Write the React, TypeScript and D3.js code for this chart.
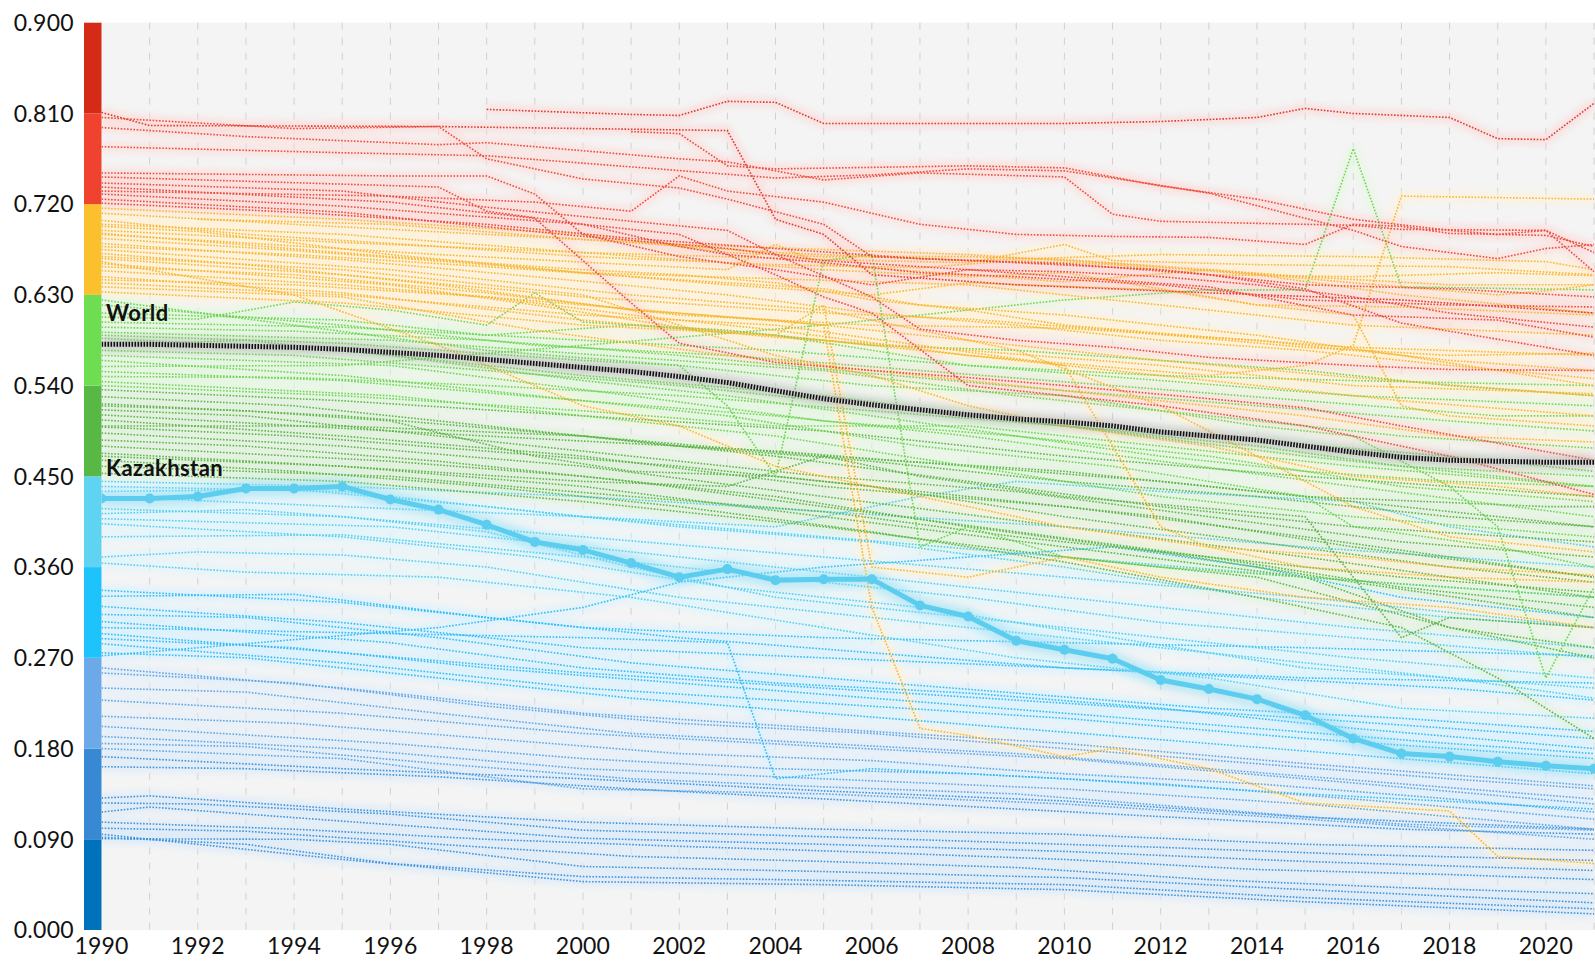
import React from 'react';
import * as d3 from 'd3';

// ---------- data ----------
const yTickValues = [0, 0.09, 0.18, 0.27, 0.36, 0.45, 0.54, 0.63, 0.72, 0.81, 0.9];
const xTickLabels = [1990, 1992, 1994, 1996, 1998, 2000, 2002, 2004, 2006, 2008, 2010, 2012, 2014, 2016, 2018, 2020];
const years = d3.range(1990, 2022);

const worldValues = [0.581, 0.581, 0.580, 0.579, 0.578, 0.576, 0.573, 0.570, 0.566, 0.562, 0.558, 0.554, 0.549, 0.543, 0.535, 0.527, 0.521, 0.516, 0.511, 0.507, 0.504, 0.500, 0.494, 0.490, 0.486, 0.480, 0.474, 0.469, 0.466, 0.465, 0.464, 0.464];
const kazakhstanValues = [0.428, 0.428, 0.430, 0.438, 0.438, 0.440, 0.427, 0.417, 0.402, 0.385, 0.377, 0.364, 0.350, 0.358, 0.347, 0.348, 0.348, 0.322, 0.311, 0.287, 0.278, 0.269, 0.248, 0.239, 0.229, 0.213, 0.190, 0.175, 0.172, 0.167, 0.163, 0.160];

// each country series: [year, value, year, value, ...]
const redSeries = [
  [1998,.814, 2001,.809, 2002,.808, 2003,.822, 2004,.821, 2005,.800, 2010,.800, 2012,.802, 2014,.806, 2015,.815, 2016,.810, 2018,.806, 2019,.785, 2020,.784, 2021,.820],
  [1990,.811, 1991,.798, 1997,.797, 2003,.793, 2004,.705, 2005,.690, 2006,.650, 2009,.640, 2013,.632, 2017,.625, 2021,.612],
  [1990,.806, 1994,.795, 1997,.797, 1998,.765, 2000,.745, 2002,.736, 2003,.725, 2005,.700, 2006,.668, 2009,.662, 2012,.655, 2015,.640, 2018,.636, 2021,.628],
  [1990,.796, 1993,.787, 1997,.779, 1998,.781, 2002,.765, 2003,.762, 2005,.744, 2007,.751, 2010,.747, 2011,.710, 2012,.703, 2016,.699, 2017,.695, 2020,.694, 2021,.653],
  [1990,.777, 1995,.771, 1998,.768, 2001,.757, 2004,.746, 2006,.749, 2008,.755, 2010,.753, 2011,.746, 2013,.731, 2015,.706, 2016,.694, 2017,.678, 2019,.666, 2020,.676, 2021,.680],
  [1990,.751, 1996,.748, 1998,.748, 1999,.730, 2000,.690, 2002,.668, 2004,.655, 2006,.640, 2008,.655, 2010,.653, 2012,.648, 2014,.640, 2016,.628, 2018,.612, 2021,.598],
  [1990,.747, 1997,.737, 1998,.713, 2000,.700, 2002,.678, 2003,.670, 2005,.662, 2007,.652, 2009,.648, 2012,.640, 2015,.625, 2018,.620, 2021,.618],
  [1990,.741, 1995,.733, 1998,.717, 2001,.703, 2003,.694, 2004,.670, 2006,.628, 2007,.596, 2009,.585, 2011,.578, 2013,.568, 2016,.560, 2018,.556, 2021,.555],
  [1990,.737, 1996,.722, 1999,.706, 2001,.622, 2002,.582, 2004,.563, 2006,.555, 2008,.548, 2010,.540, 2013,.527, 2015,.518, 2017,.500, 2021,.466],
  [1990,.730, 1995,.718, 2000,.700, 2002,.690, 2003,.670, 2004,.650, 2005,.628, 2006,.612, 2008,.540, 2010,.530, 2012,.520, 2015,.500, 2018,.470, 2021,.432],
  [1990,.725, 1995,.712, 2000,.688, 2003,.676, 2005,.664, 2008,.655, 2010,.648, 2013,.638, 2016,.610, 2019,.605, 2021,.588],
  [1990,.721, 1994,.712, 1998,.700, 2001,.686, 2004,.676, 2007,.666, 2010,.661, 2013,.650, 2015,.636, 2017,.602, 2021,.570],
  [2001,.792, 2002,.790, 2003,.758, 2004,.755, 2008,.758, 2010,.756, 2012,.738, 2014,.725, 2016,.705, 2018,.694, 2019,.690, 2020,.694, 2021,.672],
  [1990,.733, 1996,.728, 1999,.722, 2001,.713, 2002,.748, 2003,.733, 2005,.722, 2007,.700, 2009,.690, 2011,.688, 2013,.687, 2015,.680, 2016,.700, 2017,.698, 2018,.691, 2020,.689, 2021,.678],
];

const orangeSeries = [
  [1990,.716, 1995,.705, 2000,.690, 2003,.672, 2005,.668, 2008,.668, 2010,.665, 2013,.655, 2015,.648, 2018,.640, 2021,.640],
  [1990,.711, 1994,.700, 1998,.690, 2002,.680, 2005,.675, 2008,.670, 2011,.661, 2014,.650, 2017,.630, 2021,.612],
  [1990,.704, 1993,.690, 1997,.678, 2000,.668, 2004,.660, 2007,.657, 2009,.664, 2011,.660, 2013,.650, 2016,.648, 2019,.652, 2021,.649],
  [1990,.698, 1992,.693, 1996,.670, 2000,.652, 2004,.646, 2008,.640, 2012,.620, 2016,.600, 2021,.590],
  [1990,.694, 1995,.682, 2000,.672, 2005,.665, 2008,.662, 2010,.680, 2011,.664, 2014,.660, 2018,.658, 2021,.650],
  [1990,.691, 1996,.668, 2000,.655, 2002,.650, 2004,.642, 2006,.625, 2008,.615, 2010,.600, 2013,.588, 2016,.578, 2021,.570],
  [1990,.681, 1995,.665, 1999,.648, 2003,.630, 2006,.612, 2009,.600, 2012,.585, 2015,.575, 2018,.560, 2021,.547],
  [1990,.678, 1994,.670, 1998,.658, 2002,.645, 2005,.636, 2007,.620, 2010,.610, 2014,.590, 2017,.570, 2021,.540],
  [1990,.671, 1993,.660, 1997,.640, 2001,.615, 2004,.605, 2008,.585, 2012,.565, 2016,.548, 2021,.530],
  [1990,.666, 1995,.650, 2000,.628, 2005,.612, 2008,.606, 2011,.595, 2015,.578, 2018,.570, 2021,.572],
  [1990,.661, 1996,.640, 1999,.620, 2002,.598, 2005,.585, 2009,.565, 2013,.545, 2017,.525, 2021,.510],
  [1990,.658, 1994,.650, 1998,.632, 2002,.610, 2006,.600, 2010,.597, 2014,.585, 2018,.565, 2021,.555],
  [1990,.654, 1995,.640, 2000,.620, 2005,.600, 2006,.320, 2007,.200, 2008,.193, 2010,.172, 2011,.180, 2013,.160, 2015,.126, 2018,.118, 2019,.073, 2021,.066],
  [1990,.648, 1995,.632, 2000,.605, 2004,.588, 2008,.575, 2012,.560, 2016,.540, 2021,.532],
  [1990,.645, 1994,.640, 1998,.628, 2001,.610, 2004,.595, 2008,.570, 2013,.550, 2015,.560, 2016,.580, 2017,.728, 2021,.725],
  [1990,.638, 1995,.628, 1999,.595, 2003,.570, 2007,.550, 2011,.530, 2015,.510, 2018,.490, 2021,.484],
  [1990,.633, 1995,.622, 2000,.600, 2004,.590, 2005,.620, 2006,.360, 2008,.350, 2010,.370, 2012,.350, 2015,.330, 2018,.320, 2021,.300],
  [1990,.690, 1997,.670, 2003,.655, 2004,.680, 2005,.660, 2010,.643, 2013,.655, 2016,.642, 2019,.630, 2020,.634, 2021,.640],
  [1992,.705, 1996,.700, 2000,.685, 2004,.672, 2008,.664, 2012,.670, 2016,.668, 2020,.663, 2021,.655],
  [1990,.668, 1995,.655, 2000,.630, 2002,.600, 2004,.570, 2006,.550, 2008,.520, 2010,.500, 2013,.480, 2016,.450, 2019,.440, 2021,.430],
  [1990,.663, 1994,.630, 1997,.580, 2000,.520, 2002,.500, 2004,.460, 2006,.440, 2008,.420, 2010,.400, 2013,.380, 2016,.370, 2018,.360, 2021,.352],
  [1990,.686, 1994,.674, 1998,.660, 2000,.652, 2003,.640, 2006,.630, 2008,.642, 2012,.635, 2014,.620, 2017,.618, 2021,.610],
  [1990,.700, 1995,.690, 2000,.672, 2005,.655, 2008,.648, 2010,.652, 2014,.620, 2016,.610, 2017,.520, 2018,.510, 2021,.500],
  [1990,.675, 1996,.655, 2001,.630, 2005,.615, 2009,.575, 2012,.520, 2014,.470, 2016,.420, 2018,.390, 2021,.375],
  [1990,.642, 1995,.630, 2000,.610, 2004,.600, 2007,.580, 2010,.560, 2012,.400, 2013,.380, 2015,.360, 2018,.350, 2021,.345],
];

const lightGreenSeries = [
  [1990,.608, 1992,.606, 1994,.623, 1996,.615, 1998,.600, 1999,.632, 2000,.603, 2003,.595, 2006,.580, 2009,.575, 2012,.565, 2015,.555, 2018,.540, 2021,.530],
  [1990,.603, 1995,.598, 2000,.585, 2004,.575, 2008,.560, 2012,.545, 2016,.530, 2021,.520],
  [1990,.598, 1994,.594, 1998,.585, 2002,.570, 2006,.552, 2010,.535, 2014,.520, 2018,.505, 2021,.495],
  [1990,.593, 1996,.585, 2001,.568, 2005,.555, 2009,.530, 2013,.510, 2017,.490, 2021,.478],
  [1990,.590, 1995,.582, 2000,.565, 2002,.560, 2003,.520, 2004,.450, 2005,.664, 2006,.670, 2007,.380, 2008,.400, 2010,.370, 2012,.360, 2015,.350, 2018,.340, 2021,.330],
  [1990,.587, 1995,.575, 2000,.550, 2005,.530, 2010,.500, 2015,.470, 2021,.440],
  [1990,.575, 1994,.570, 1998,.555, 2002,.540, 2006,.520, 2010,.500, 2014,.485, 2018,.470, 2021,.455],
  [1990,.570, 1996,.560, 2001,.530, 2005,.505, 2009,.490, 2013,.470, 2017,.440, 2021,.425],
  [1990,.565, 1995,.550, 1999,.530, 2003,.510, 2007,.480, 2011,.460, 2015,.430, 2016,.400, 2019,.380, 2021,.360],
  [1990,.559, 1995,.560, 2000,.580, 2005,.600, 2010,.625, 2013,.635, 2015,.635, 2016,.775, 2017,.638, 2021,.635],
  [1990,.554, 1995,.545, 2000,.525, 2004,.510, 2008,.490, 2012,.465, 2016,.440, 2021,.410],
  [1990,.549, 1994,.548, 1998,.540, 2002,.530, 2006,.515, 2010,.500, 2014,.480, 2017,.460, 2021,.450],
  [1990,.544, 1996,.530, 2000,.510, 2004,.490, 2008,.460, 2012,.430, 2016,.410, 2021,.390],
  [1990,.620, 1995,.600, 1999,.580, 2003,.570, 2007,.555, 2011,.540, 2015,.525, 2019,.510, 2021,.510],
  [1990,.625, 1994,.600, 1998,.575, 2002,.560, 2006,.540, 2010,.530, 2014,.500, 2016,.490, 2018,.440, 2019,.400, 2020,.250, 2021,.340],
  [1990,.580, 1993,.585, 1996,.570, 2000,.545, 2003,.530, 2006,.510, 2009,.490, 2012,.470, 2015,.455, 2018,.445, 2021,.440],
  [1990,.612, 1995,.605, 1998,.590, 2001,.600, 2004,.590, 2006,.575, 2008,.560, 2012,.550, 2016,.545, 2021,.540],
];

const greenSeries = [
  [1990,.536, 1995,.525, 2000,.510, 2005,.495, 2010,.470, 2015,.450, 2021,.430],
  [1990,.529, 1994,.520, 1998,.500, 2002,.480, 2006,.465, 2010,.445, 2014,.430, 2018,.410, 2021,.400],
  [1990,.522, 1995,.510, 2000,.490, 2004,.470, 2008,.445, 2012,.420, 2016,.400, 2021,.385],
  [1990,.516, 1993,.510, 1997,.490, 2001,.470, 2005,.450, 2009,.435, 2013,.410, 2017,.385, 2021,.370],
  [1990,.511, 1996,.495, 2000,.485, 2004,.475, 2008,.460, 2012,.445, 2016,.425, 2021,.400],
  [1990,.506, 1995,.490, 2000,.470, 2005,.440, 2010,.420, 2015,.390, 2021,.350],
  [1990,.499, 1994,.490, 1998,.475, 2002,.460, 2006,.440, 2010,.410, 2014,.385, 2018,.360, 2021,.345],
  [1990,.493, 1995,.480, 2000,.460, 2005,.430, 2010,.400, 2015,.370, 2021,.330],
  [1990,.486, 1993,.480, 1997,.465, 2001,.445, 2005,.420, 2009,.395, 2013,.370, 2017,.340, 2021,.320],
  [1990,.480, 1996,.465, 2000,.450, 2004,.430, 2008,.400, 2012,.375, 2016,.345, 2021,.310],
  [1990,.473, 1995,.460, 2000,.440, 2005,.410, 2010,.380, 2015,.350, 2018,.300, 2021,.270],
  [1990,.466, 1994,.455, 1998,.440, 2002,.420, 2006,.395, 2010,.365, 2014,.330, 2017,.300, 2019,.250, 2021,.190],
  [1990,.460, 1996,.450, 2001,.430, 2005,.415, 2009,.390, 2013,.370, 2017,.350, 2021,.335],
  [1990,.453, 1995,.445, 2000,.425, 2005,.400, 2010,.370, 2014,.350, 2018,.300, 2021,.280],
  [1990,.540, 1995,.530, 2000,.515, 2004,.500, 2008,.500, 2012,.480, 2016,.460, 2021,.440],
  [1990,.500, 1995,.500, 2000,.490, 2005,.470, 2010,.455, 2015,.430, 2020,.420, 2021,.420],
  [1990,.470, 1995,.460, 2000,.445, 2003,.440, 2005,.470, 2007,.450, 2010,.430, 2015,.410, 2017,.290, 2018,.310, 2021,.300],
  [1990,.520, 1993,.515, 1996,.505, 1999,.470, 2001,.455, 2004,.450, 2008,.430, 2012,.410, 2016,.380, 2021,.350],
];

const lightBlueSeries = [
  [1990,.445, 1995,.440, 2000,.430, 2005,.415, 2010,.400, 2015,.380, 2021,.360],
  [1990,.440, 1995,.435, 2000,.410, 2005,.390, 2010,.370, 2015,.350, 2021,.330],
  [1990,.435, 1994,.437, 1998,.420, 2002,.400, 2006,.385, 2010,.360, 2014,.330, 2018,.310, 2021,.300],
  [1990,.418, 1995,.410, 2000,.390, 2005,.370, 2010,.350, 2015,.330, 2021,.300],
  [1990,.413, 1993,.417, 1995,.410, 1998,.395, 2001,.360, 2004,.330, 2008,.310, 2012,.290, 2016,.270, 2021,.250],
  [1990,.408, 1996,.400, 2000,.380, 2004,.360, 2008,.340, 2012,.320, 2016,.300, 2021,.280],
  [1990,.403, 1995,.390, 1999,.370, 2003,.340, 2007,.320, 2011,.290, 2015,.260, 2018,.250, 2021,.240],
  [1990,.390, 1995,.392, 2000,.370, 2004,.350, 2008,.330, 2012,.305, 2016,.290, 2021,.270],
  [1990,.370, 1992,.375, 1995,.372, 1998,.360, 2002,.330, 2006,.310, 2010,.290, 2014,.270, 2018,.250, 2021,.230],
  [1990,.364, 1993,.355, 1997,.350, 2001,.330, 2005,.300, 2009,.270, 2013,.250, 2017,.220, 2021,.210],
  [1990,.430, 1995,.420, 2000,.410, 2004,.400, 2007,.430, 2009,.445, 2012,.435, 2014,.430, 2016,.425, 2018,.400, 2021,.380],
];

const blueSeries = [
  [1990,.337, 1995,.325, 2000,.300, 2005,.290, 2010,.285, 2015,.280, 2021,.272],
  [1990,.331, 1994,.333, 1998,.310, 2002,.290, 2006,.275, 2010,.260, 2014,.250, 2018,.240, 2021,.228],
  [1990,.321, 1995,.305, 2000,.280, 2005,.270, 2010,.260, 2015,.250, 2021,.245],
  [1990,.313, 1993,.310, 1997,.290, 2001,.265, 2005,.250, 2009,.235, 2013,.220, 2017,.210, 2021,.197],
  [1990,.306, 1996,.285, 2000,.260, 2004,.245, 2008,.235, 2012,.220, 2016,.200, 2021,.180],
  [1990,.294, 1995,.275, 2000,.255, 2005,.240, 2010,.225, 2015,.210, 2021,.190],
  [1990,.289, 1994,.280, 1998,.260, 2002,.245, 2006,.230, 2010,.215, 2014,.200, 2018,.185, 2021,.175],
  [1990,.284, 1995,.265, 2000,.240, 2005,.225, 2010,.210, 2015,.190, 2021,.170],
  [1990,.275, 1993,.270, 1997,.250, 2001,.230, 2005,.215, 2009,.200, 2013,.185, 2017,.170, 2021,.155],
  [1990,.300, 1995,.295, 2000,.290, 2003,.285, 2004,.150, 2006,.160, 2010,.150, 2015,.135, 2021,.120],
  [1990,.272, 1992,.280, 1997,.300, 2000,.320, 2002,.345, 2005,.360, 2008,.370, 2011,.380, 2014,.360, 2017,.330, 2021,.310],
];

const steelSeries = [
  [1990,.260, 1995,.240, 2000,.215, 2005,.200, 2010,.185, 2015,.165, 2021,.143],
  [1990,.255, 1994,.245, 1998,.222, 2002,.205, 2006,.195, 2010,.180, 2014,.165, 2018,.150, 2021,.140],
  [1990,.240, 1993,.236, 1997,.215, 2001,.195, 2005,.185, 2009,.175, 2013,.160, 2017,.145, 2021,.130],
  [1990,.228, 1995,.215, 2000,.195, 2005,.182, 2010,.170, 2015,.150, 2021,.125],
  [1990,.212, 1994,.205, 1998,.190, 2002,.175, 2006,.168, 2010,.155, 2014,.145, 2018,.130, 2021,.117],
  [1990,.202, 1996,.185, 2000,.170, 2004,.160, 2008,.155, 2012,.145, 2016,.130, 2021,.110],
  [1990,.192, 1995,.180, 2000,.160, 2005,.150, 2010,.140, 2015,.125, 2021,.100],
  [1990,.185, 1993,.182, 1997,.165, 2001,.150, 2005,.142, 2009,.135, 2013,.120, 2017,.105, 2021,.099],
  [1990,.180, 1995,.170, 2000,.140, 2005,.135, 2010,.125, 2015,.110, 2021,.090],
];

const navySeries = [
  [1990,.172, 1995,.160, 2000,.150, 2005,.138, 2010,.128, 2015,.112, 2021,.100],
  [1990,.162, 1993,.160, 1997,.152, 2001,.140, 2005,.130, 2009,.120, 2013,.110, 2017,.100, 2021,.095],
  [1990,.131, 1991,.133, 1995,.120, 2000,.107, 2005,.100, 2010,.095, 2015,.085, 2021,.079],
  [1990,.126, 1992,.125, 1996,.115, 2000,.099, 2004,.094, 2008,.088, 2012,.082, 2016,.075, 2021,.069],
  [1990,.117, 1991,.122, 1995,.108, 2000,.091, 2005,.085, 2010,.078, 2015,.068, 2021,.059],
  [1990,.107, 1994,.100, 1998,.090, 2002,.083, 2006,.077, 2010,.070, 2014,.060, 2018,.055, 2021,.050],
  [1990,.101, 1993,.098, 1997,.085, 2001,.073, 2005,.068, 2009,.062, 2013,.050, 2017,.042, 2021,.036],
  [1990,.0905, 1994,.090, 1996,.085, 2000,.063, 2005,.058, 2010,.052, 2015,.040, 2021,.027],
  [1990,.092, 1993,.085, 1996,.066, 2000,.053, 2004,.050, 2010,.045, 2015,.032, 2021,.021],
  [1990,.095, 1995,.070, 2000,.048, 2005,.045, 2010,.040, 2015,.028, 2021,.016],
];

// ---------- styling ----------
const bandColors = ['#0071bb', '#3789d3', '#6ba9e8', '#1ec3fb', '#5fd4f2', '#57b845', '#6fdd52', '#fbc02d', '#ef4330', '#d42a16'];
const lineColors = ['#1d76c2', '#3a8fd8', '#5aa2e2', '#2bb9f2', '#4fcaee', '#58b244', '#6ad250', '#f5b42c', '#ea4636', '#dc3424'];

const W = 1595;
const H = 967;
const X0 = 101.5;
const X1 = 1594;
const YTOP = 22.7;
const YBOT = 930;
const FONT = 'Lato, "Open Sans", sans-serif';

function toPoints(arr: number[]): [number, number][] {
  const pts: [number, number][] = [];
  for (let i = 0; i < arr.length; i += 2) pts.push([arr[i], arr[i + 1]]);
  return pts;
}

export default function App() {
  const x = d3.scaleLinear().domain([1990, 2021]).range([X0, X1]);
  const y = d3.scaleLinear().domain([0, 0.9]).range([YBOT, YTOP]);
  const line = d3.line<[number, number]>().x(d => x(d[0])).y(d => y(d[1]));

  const groups = [navySeries, steelSeries, blueSeries, lightBlueSeries, greenSeries, lightGreenSeries, orangeSeries, redSeries];
  const all = groups.flat().map(s => {
    const pts = toPoints(s);
    const idx = Math.max(0, Math.min(9, Math.floor(pts[0][1] / 0.09 + 1e-9)));
    return { d: line(pts) as string, color: lineColors[idx] };
  });

  const worldPts = years.map((yr, i) => [yr, worldValues[i]] as [number, number]);
  const kazPts = years.map((yr, i) => [yr, kazakhstanValues[i]] as [number, number]);
  const worldD = line(worldPts) as string;
  const kazD = line(kazPts) as string;

  const bands = d3.range(10).map(i => ({ lo: i * 0.09, hi: (i + 1) * 0.09, color: bandColors[i] }));

  return (
    <svg width={W} height={H} style={{ position: 'absolute', left: 0, top: 0, background: '#ffffff' }}>
      <defs>
        <filter id="halo" x="-2%" y="-5%" width="104%" height="110%">
          <feGaussianBlur stdDeviation="3.5" />
        </filter>
        <filter id="halo2" x="-2%" y="-20%" width="104%" height="140%">
          <feGaussianBlur stdDeviation="4" />
        </filter>
        <clipPath id="plotClip">
          <rect x={X0} y={YTOP} width={W - X0} height={YBOT - YTOP} />
        </clipPath>
      </defs>

      <rect x={X0} y={YTOP} width={W - X0} height={YBOT - YTOP} fill="#f4f4f4" />

      {years.slice(1).map(yr => (
        <line key={'g' + yr} x1={x(yr)} x2={x(yr)} y1={YTOP} y2={YBOT} stroke="#d0d0d0" strokeWidth={1} strokeDasharray="7 8" />
      ))}

      <g clipPath="url(#plotClip)">
        <g filter="url(#halo)">
          {all.map((s, i) => (
            <path key={'h' + i} d={s.d} fill="none" stroke={d3.interpolateRgb(s.color, '#ffffff')(0.82)} strokeWidth={10} strokeOpacity={0.75} strokeLinejoin="round" />
          ))}
        </g>
        {all.map((s, i) => (
          <path key={'l' + i} d={s.d} fill="none" stroke={s.color} strokeWidth={1.6} strokeDasharray="1.6 1.6" strokeOpacity={0.95} />
        ))}

        <g filter="url(#halo2)">
          <path d={worldD} fill="none" stroke="#9a9a9a" strokeWidth={12} strokeOpacity={0.45} />
          <path d={kazD} fill="none" stroke="#7fdaf3" strokeWidth={16} strokeOpacity={0.45} />
        </g>
        <path d={worldD} fill="none" stroke="#cfcfcf" strokeWidth={5} />
        <path d={worldD} fill="none" stroke="#111111" strokeWidth={5} strokeDasharray="1.6 1.4" />
        <path d={kazD} fill="none" stroke="#5ccdee" strokeWidth={5} strokeLinejoin="round" />
        {kazPts.map(p => (
          <circle key={'k' + p[0]} cx={x(p[0])} cy={y(p[1])} r={5} fill="#5ccdee" />
        ))}
      </g>

      {bands.map((b, i) => (
        <rect key={'b' + i} x={84} y={y(b.hi)} width={X0 - 84} height={y(b.lo) - y(b.hi)} fill={b.color} />
      ))}

      <text x={106} y={321} fontFamily={FONT} fontWeight={700} fontSize={22} letterSpacing={0.4} fill="#111">World</text>
      <text x={106} y={476} fontFamily={FONT} fontWeight={700} fontSize={22} letterSpacing={0.4} fill="#111">Kazakhstan</text>

      {yTickValues.map(v => (
        <text key={'y' + v} x={74} y={y(v)} dy="0.36em" textAnchor="end" fontFamily={FONT} fontSize={23} letterSpacing={0.3} fill="#111">
          {v.toFixed(3)}
        </text>
      ))}
      {xTickLabels.map(yr => (
        <text key={'x' + yr} x={x(yr)} y={954} textAnchor="middle" fontFamily={FONT} fontSize={23} letterSpacing={0.2} fill="#111">
          {yr}
        </text>
      ))}
    </svg>
  );
}
